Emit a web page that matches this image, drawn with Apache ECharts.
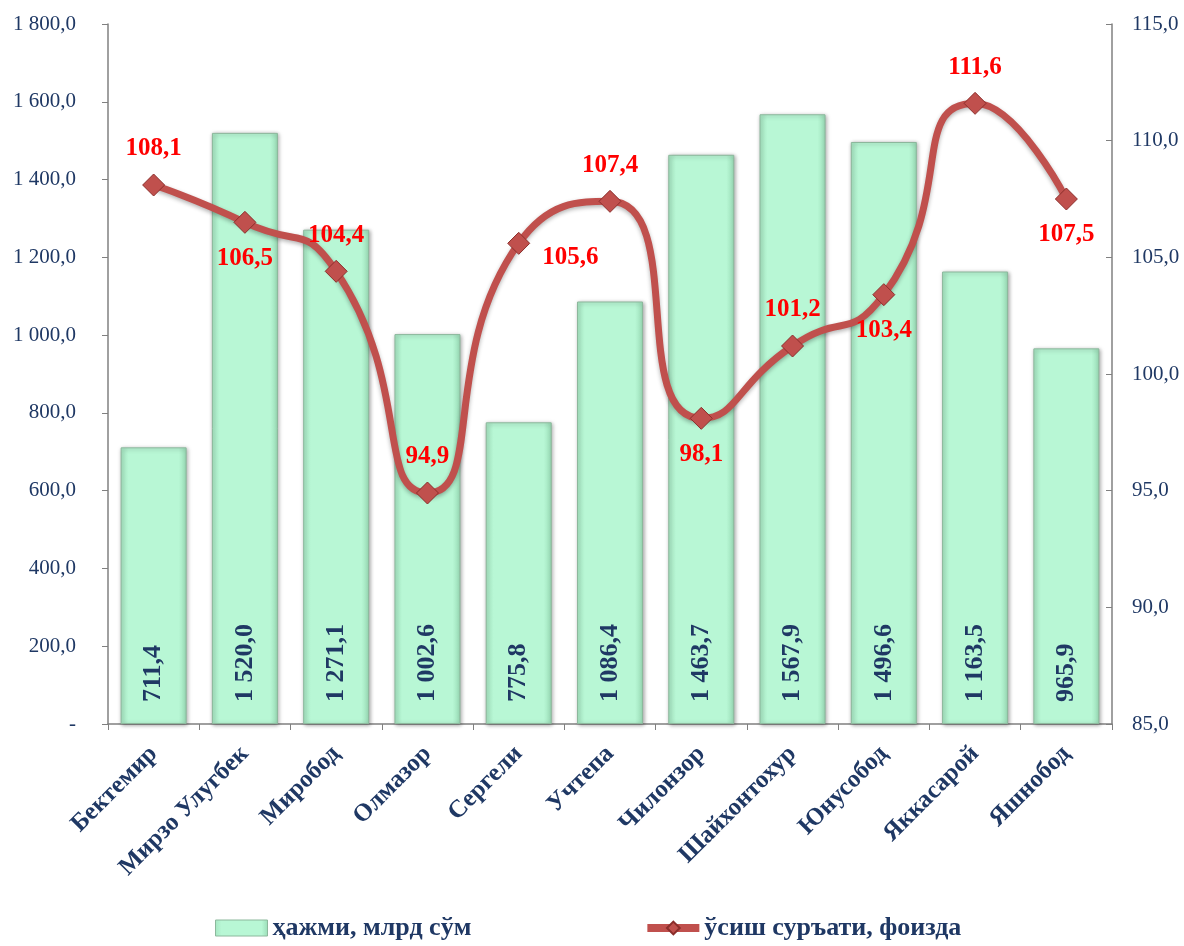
<!DOCTYPE html>
<html><head><meta charset="utf-8">
<script src="https://cdn.jsdelivr.net/npm/echarts@6/dist/echarts.min.js"></script>
<style>html,body{margin:0;padding:0;background:#fff}#c{width:1184px;height:946px}</style>
</head><body><div id="c"></div>
<script>
const categories = ['Бектемир','Мирзо Улугбек','Миробод','Олмазор','Сергели','Учтепа','Чилонзор','Шайхонтохур','Юнусобод','Яккасарой','Яшнобод'];
const volume = [711.4, 1520.0, 1271.1, 1002.6, 775.8, 1086.4, 1463.7, 1567.9, 1496.6, 1163.5, 965.9];
const growth = [108.1, 106.5, 104.4, 94.9, 105.6, 107.4, 98.1, 101.2, 103.4, 111.6, 107.5];
const seriesNames = ['ҳажми, млрд сўм', 'ўсиш суръати, фоизда'];
const growthLabelPos = ['top','bottom','top','top','right','top','bottom','top','bottom','top','bottom'];

function fmt(v, d) {
  const s = v.toFixed(d);
  const parts = s.split('.');
  const int = parts[0].replace(/\B(?=(\d{3})+(?!\d))/g, ' ');
  return d > 0 ? int + ',' + parts[1] : int;
}
const FONT = '"Liberation Serif", "Times New Roman", serif';
const DARK = '#1F3864';

const chart = echarts.init(document.getElementById('c'));
chart.setOption({
  animation: false,
  textStyle: { fontFamily: FONT },
  grid: { left: 108, right: 72, top: 24, bottom: 222, containLabel: false },
  legend: {
    bottom: 0, left: 210, itemGap: 172, itemWidth: 52, itemHeight: 16,
    textStyle: { fontFamily: FONT, fontSize: 26, fontWeight: 'bold', color: DARK },
    data: [
      { name: seriesNames[0], icon: 'rect', itemStyle: { borderColor: '#8CB89C', borderWidth: 1 } },
      { name: seriesNames[1], lineStyle: { width: 8, color: '#C0504D' } }
    ]
  },
  xAxis: {
    type: 'category', data: categories,
    axisLine: { lineStyle: { color: '#808080', width: 1.5 } },
    axisTick: { show: true, length: 6, lineStyle: { color: '#808080' } },
    axisLabel: { rotate: 45, fontFamily: FONT, fontSize: 25, fontWeight: 'bold', color: DARK, margin: 26, interval: 0 }
  },
  yAxis: [
    {
      type: 'value', min: 0, max: 1800, interval: 200,
      axisLine: { show: true, lineStyle: { color: '#808080', width: 1.5 } },
      axisTick: { show: true, length: 6, lineStyle: { color: '#808080' } },
      splitLine: { show: false },
      axisLabel: { fontFamily: FONT, fontSize: 21, color: DARK, margin: 32,
        formatter: v => v === 0 ? '-' : fmt(v, 1) }
    },
    {
      type: 'value', min: 85, max: 115, interval: 5, position: 'right',
      axisLine: { show: true, lineStyle: { color: '#808080', width: 1.5 } },
      axisTick: { show: true, length: 6, inside: true, lineStyle: { color: '#808080' } },
      splitLine: { show: false },
      axisLabel: { fontFamily: FONT, fontSize: 21, color: DARK, margin: 20,
        formatter: v => fmt(v, 1) }
    }
  ],
  series: [
    {
      name: seriesNames[0], type: 'bar', yAxisIndex: 0, barWidth: 66,
      data: volume,
      itemStyle: {
        color: {
          type: 'linear', x: 0, y: 0, x2: 1, y2: 0,
          colorStops: [
            { offset: 0, color: '#A6E6C2' },
            { offset: 0.12, color: '#B8F7D5' },
            { offset: 0.88, color: '#B8F7D5' },
            { offset: 1, color: '#9ADDB7' }
          ]
        },
        borderColor: '#8CB89C', borderWidth: 1,
        shadowColor: 'rgba(0,0,0,0.35)', shadowBlur: 4, shadowOffsetX: 1, shadowOffsetY: 1
      },
      label: {
        show: true, position: 'insideBottom', rotate: 90, distance: 22,
        align: 'left', verticalAlign: 'middle',
        fontFamily: FONT, fontSize: 26, fontWeight: 'bold', color: DARK,
        formatter: p => fmt(p.value, 1)
      }
    },
    {
      name: seriesNames[1], type: 'line', yAxisIndex: 1, smooth: 0.6,
      symbol: 'diamond', symbolSize: 22,
      lineStyle: { color: '#C0504D', width: 7, shadowColor: 'rgba(0,0,0,0.3)', shadowBlur: 4, shadowOffsetY: 2 },
      itemStyle: { color: '#C0504D', borderColor: '#8B2E2B', borderWidth: 1 },
      data: growth.map((v, i) => ({
        value: v,
        label: growthLabelPos[i] === 'right'
          ? { position: 'right', offset: [0, 14] }
          : { position: growthLabelPos[i] }
      })),
      label: {
        show: true, distance: 12,
        fontFamily: FONT, fontSize: 25, fontWeight: 'bold', color: '#FF0000',
        formatter: p => fmt(p.value, 1)
      }
    }
  ]
});
</script></body></html>
